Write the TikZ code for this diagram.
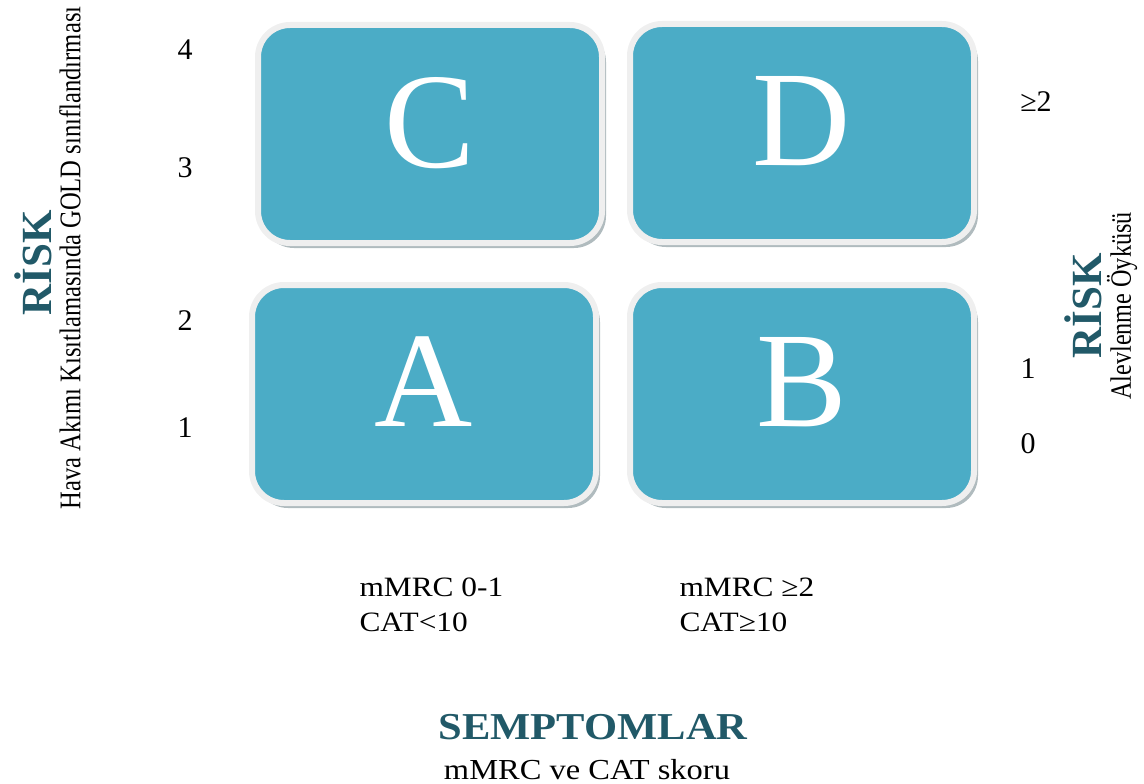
\documentclass[tikz,border=0pt]{standalone}
\usepackage{fontspec}
\setmainfont{Liberation Serif}
\newfontfamily\wideserif[FakeStretch=1.12]{Liberation Serif}
\newfontfamily\narrowserif[FakeStretch=0.82]{Liberation Serif}
\usetikzlibrary{shadows}

\definecolor{quadfill}{HTML}{4BACC6}
\definecolor{quadrim}{HTML}{EFEFEF}
\definecolor{quadshade}{HTML}{8E9EA3}
\definecolor{risktext}{HTML}{215968}

\tikzset{
  quadrant/.style={rectangle, rounded corners=32pt, fill=quadfill, draw=quadrim,
    line width=6pt, minimum width=344pt, minimum height=218pt, inner sep=0pt,
    text=white, text depth=24pt, font=\fontsize{136}{136}\selectfont,
    drop shadow={shadow xshift=4pt, shadow yshift=-5pt, fill=quadshade, opacity=.7}},
  axistitle/.style={text=risktext, font=\bfseries\fontsize{43}{43}\selectfont},
}

\begin{document}
\begin{tikzpicture}[x=1pt,y=-1pt]
  \useasboundingbox (0,0) rectangle (1144,784);

  % the four groups
  \node[quadrant] (C) at (430,134) {C};
  \node[quadrant] (D) at (802,133) {D};
  \node[quadrant] (A) at (424,394) {A};
  \node[quadrant] (B) at (802,394) {B};

  % GOLD grades, left
  \begin{scope}[every node/.style={font=\fontsize{30}{30}\selectfont}]
    \node (g4) at (185,50)  {4};
    \node (g3) at (185,168) {3};
    \node (g2) at (185,321) {2};
    \node (g1) at (185,428) {1};
  \end{scope}

  % exacerbations, right
  \begin{scope}[every node/.style={font=\fontsize{30}{30}\selectfont}]
    \node (e2) at (1036,102) {≥2};
    \node (e1) at (1028,369) {1};
    \node (e0) at (1028,444) {0};
  \end{scope}

  % symptom scores under the boxes
  \begin{scope}[every node/.style={anchor=west, align=left,
      font=\wideserif\fontsize{28}{35}\selectfont}]
    \node (sLow)  at (356,605) {mMRC 0-1\\CAT<10};
    \node (sHigh) at (676,605) {mMRC ≥2\\CAT≥10};
  \end{scope}

  % axis titles
  \node[axistitle, rotate=90] (riskL) at (33,263) {RİSK};
  \node[rotate=90, font=\narrowserif\fontsize{30}{30}\selectfont] (riskLsub) at (70,258)
    {Hava Akımı Kısıtlamasında GOLD sınıflandırması};
  \node[axistitle, rotate=90] (riskR) at (1083,306) {RİSK};
  \node[rotate=90, font=\narrowserif\fontsize{29.5}{29.5}\selectfont] (riskRsub) at (1122,306)
    {Alevlenme Öyküsü};
  \node[text=risktext, font=\wideserif\bfseries\fontsize{38}{38}\selectfont] (symp) at (593,727)
    {SEMPTOMLAR};
  \node[font=\wideserif\fontsize{29}{29}\selectfont] (sympSub) at (587,770)
    {mMRC ve CAT skoru};

\end{tikzpicture}
\end{document}
